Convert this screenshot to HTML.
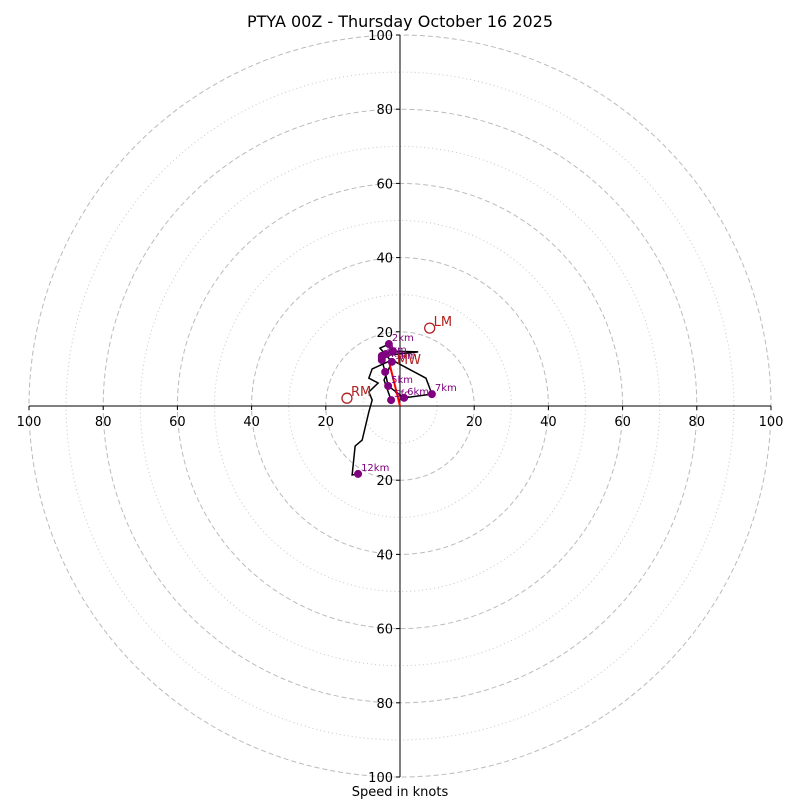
<!DOCTYPE html>
<html><head><meta charset="utf-8"><style>
html,body{margin:0;padding:0;background:#fff;}
svg{display:block;font-family:"DejaVu Sans","Liberation Sans",sans-serif;}
</style></head><body>
<svg id="chart" width="800" height="800" viewBox="0 0 800 800">
<text x="400" y="27" text-anchor="middle" font-size="16">PTYA 00Z - Thursday October 16 2025</text>
<g id="rings"></g>
<g id="axes"></g>
<g id="series"></g>
<text x="400" y="796" text-anchor="middle" font-size="13">Speed in knots</text>
</svg>
<script>
const ringSpeeds = [10,20,30,40,50,60,70,80,90,100];
const tickLabels = [100,80,60,40,20,20,40,60,80,100];
const tickValues = [-100,-80,-60,-40,-20,20,40,60,80,100];
const pathU = [-2.4,-4.3,-2.2,-5.4,-3.0,-1.9,4.9,-4.9,-4.9,-4.0,-3.2,1.1,8.6,7.0,-2.2,-7.5,-8.4,-5.9,-8.4,-7.5,-8.4,-10.2,-12.1,-12.9,-11.3];
const pathV = [1.6,7.0,11.9,15.6,16.7,14.8,14.6,13.5,12.4,9.2,5.4,2.2,3.2,7.5,12.4,10.0,7.5,6.2,3.8,1.6,-1.6,-9.2,-10.8,-18.6,-18.3];
const markerLabels = ["Sfc","1km","2km","3km","4km","5km","6km","7km","8km","9km","10km","11km","12km"];
const markerU = [-2.4,-2.2,-3.0,-4.9,-4.9,-3.2,1.1,8.6,-1.9,-4.9,-4.0,-3.8,-11.3];
const markerV = [1.6,11.9,16.7,13.5,12.4,5.4,2.2,3.2,14.8,13.0,9.2,14.0,-18.3];
const showLabel = [true,true,true,true,true,true,true,true,false,false,false,false,true];
const mwU = [-3.0], mwV = [12.1];
const lmU = [8.0], lmV = [21.0];
const rmU = [-14.3], rmV = [2.1];

const cx=400, cy=406, R=371, maxS=100;
const sx=u=>cx+u*R/maxS, sy=v=>cy-v*R/maxS;
const NS='http://www.w3.org/2000/svg';
function mk(tag,attrs,parent){const e=document.createElementNS(NS,tag);for(const k in attrs)e.setAttribute(k,attrs[k]);parent.appendChild(e);return e;}
const rings=document.getElementById('rings'),axes=document.getElementById('axes'),series=document.getElementById('series');
ringSpeeds.forEach(s=>{
  const major=s%20===0;
  const c=mk('circle',{cx:cx,cy:cy,r:s*R/maxS,fill:'none',stroke:major?'#bbb':'#c8c8c8','stroke-width':1,'stroke-dasharray':major?'5,3':'1,3'},rings);
  
  
});
let l=mk('line',{x1:sx(-100),y1:cy,x2:sx(100),y2:cy,stroke:'#000','stroke-width':1},axes);


l=mk('line',{x1:cx,y1:sy(100),x2:cx,y2:sy(-100),stroke:'#000','stroke-width':1},axes);


tickValues.forEach((t,i)=>{
  let tk=mk('line',{x1:sx(t),y1:cy,x2:sx(t),y2:cy+4,stroke:'#000'},axes);
  
  
  let tx=mk('text',{x:sx(t),y:cy+20,'text-anchor':'middle','font-size':13},axes);
  tx.textContent=tickLabels[i];
  
  
  tk=mk('line',{x1:cx-4,y1:sy(-t),x2:cx,y2:sy(-t),stroke:'#000'},axes);
  
  
  tx=mk('text',{x:cx-7,y:sy(-t)+5,'text-anchor':'end','font-size':13},axes);
  tx.textContent=tickLabels[i];
  
  
});
const pts=pathU.map((u,i)=>sx(u)+','+sy(pathV[i])).join(' ');
const pl=mk('polyline',{points:pts,fill:'none',stroke:'#000','stroke-width':1.5},series);


const sh=mk('line',{x1:sx(mwU[0]),y1:sy(mwV[0]),x2:cx,y2:cy,stroke:'red','stroke-width':2},series);


markerU.forEach((u,i)=>{
  const c=mk('circle',{cx:sx(u),cy:sy(markerV[i]),r:4,fill:'purple'},series);
  
  
  if(showLabel[i]){
    const t=mk('text',{x:sx(u)+3,y:sy(markerV[i])-3,'font-size':10,fill:'purple'},series);
    t.textContent=markerLabels[i];
    
    
  }
});
let mw=mk('text',{x:sx(mwU[0])+8,y:sy(mwV[0])+3,'font-size':13,fill:'#b22222'},series);
mw.textContent='MW';


[[lmU,lmV,'LM'],[rmU,rmV,'RM']].forEach(([u,v,n])=>{
  const c=mk('circle',{cx:sx(u[0]),cy:sy(v[0]),r:5,fill:'none',stroke:'#b22222','stroke-width':1.3},series);
  
  
  const t=mk('text',{x:sx(u[0])+4,y:sy(v[0])-2,'font-size':13,fill:'#b22222'},series);
  t.textContent=n;
  
  
});
</script>
</body></html>
